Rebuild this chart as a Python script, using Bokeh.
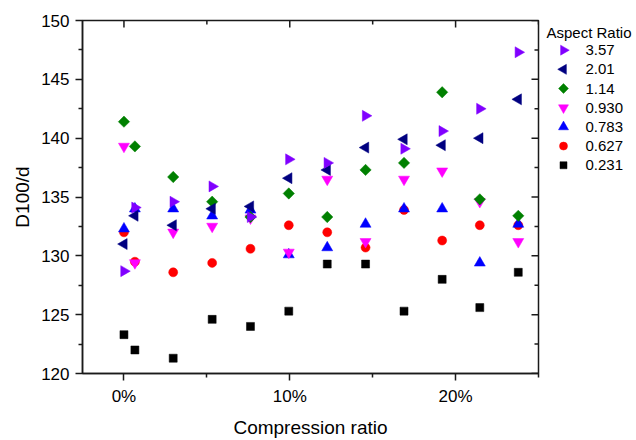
import math
from bokeh.plotting import figure
from bokeh.layouts import row
from bokeh.models import Range1d, NumeralTickFormatter, FixedTicker
from bokeh.core.properties import value
from bokeh.embed import file_html
from bokeh.resources import INLINE

# ---- data ----
compression = [0.0, 0.0066, 0.0297, 0.0532, 0.0763, 0.0994, 0.1226, 0.1457,
               0.1689, 0.1919, 0.2146, 0.2378]

aspect_labels = ["3.57", "2.01", "1.14", "0.930", "0.783", "0.627", "0.231"]

ar_357 = [128.7, 134.1, 134.6, 135.9, 133.3, 138.2, 137.9, 141.9, 139.1, 140.6, 142.5, 147.3]
ar_201 = [131.0, 133.4, 132.6, 134.0, 134.2, 136.6, 137.3, 139.2, 139.9, 139.4, 140.0, 143.3]
ar_114 = [141.4, 139.3, 136.7, 134.6, 133.3, 135.3, 133.3, 137.3, 137.9, 143.9, 134.8, 133.4]
ar_0930 = [139.3, 129.4, 132.0, 132.5, 133.2, 130.3, 136.5, 131.2, 136.5, 137.2, 134.6, 131.2]
ar_0783 = [132.3, 134.0, 134.0, 133.4, 133.9, 130.1, 130.7, 132.7, 134.0, 134.0, 129.4, 132.7]
ar_0627 = [132.0, 129.5, 128.6, 129.4, 130.6, 132.6, 132.0, 130.7, 133.9, 131.3, 132.6, 132.6]
ar_0231 = [123.3, 122.0, 121.3, 124.6, 124.0, 125.3, 129.3, 129.3, 125.3, 128.0, 125.6, 128.6]

x_ticks = [0.0, 0.1, 0.2]
x_minor = [0.05, 0.15, 0.25]
y_ticks = [120, 125, 130, 135, 140, 145, 150]
y_minor = [122.5, 127.5, 132.5, 137.5, 142.5, 147.5]

series = [ar_357, ar_201, ar_114, ar_0930, ar_0783, ar_0627, ar_0231]
styles = [
    dict(marker="triangle", angle=-math.pi / 2, size=11, color="#8000FF"),
    dict(marker="triangle", angle=math.pi / 2, size=11, color="#000080"),
    dict(marker="square", angle=math.pi / 4, size=8, color="#008000"),
    dict(marker="inverted_triangle", angle=0.0, size=11, color="#FF00FF"),
    dict(marker="triangle", angle=0.0, size=11, color="#0000FF"),
    dict(marker="circle", angle=0.0, size=9, color="#FF0000"),
    dict(marker="square", angle=0.0, size=8, color="#000000"),
]

FONT = "Liberation Sans"
AX = "#1a1a1a"

X0, X1 = -0.025, 0.25
Y0, Y1 = 120, 150
TOP, BOTTOM = 20, 63

p = figure(width=544, height=440, output_backend="svg", toolbar_location=None,
           x_range=Range1d(X0, X1), y_range=Range1d(Y0, Y1),
           min_border_left=82, min_border_right=6, min_border_top=TOP,
           min_border_bottom=BOTTOM)
p.grid.visible = False
p.outline_line_color = AX
p.outline_line_width = 1.5
p.background_fill_color = "white"
p.border_fill_color = "white"

xb = p.xaxis[0]
yl = p.yaxis[0]
xb.ticker = FixedTicker(ticks=x_ticks, minor_ticks=x_minor)
xb.formatter = NumeralTickFormatter(format="0%")
yl.ticker = FixedTicker(ticks=y_ticks, minor_ticks=y_minor)
xb.axis_label = "Compression ratio"
yl.axis_label = "D100/d"

for ax in (xb, yl):
    ax.axis_line_color = AX
    ax.axis_line_width = 1.5
    ax.major_tick_line_color = AX
    ax.minor_tick_line_color = AX
    ax.major_tick_line_width = 1.5
    ax.minor_tick_line_width = 1.5
    ax.major_tick_out = 7
    ax.major_tick_in = 0
    ax.minor_tick_out = 4
    ax.minor_tick_in = 0
    ax.major_label_text_font = FONT
    ax.major_label_text_font_size = "17px"
    ax.major_label_text_color = "black"
    ax.axis_label_text_font = FONT
    ax.axis_label_text_font_size = "19px"
    ax.axis_label_text_font_style = "normal"
    ax.axis_label_text_color = "black"
xb.major_label_standoff = 6
xb.axis_label_standoff = 8
yl.major_label_standoff = 6
yl.axis_label_standoff = 5

# mirror ticks (pointing inward) on the top and right frame edges
p.ray(x=x_ticks, y=[Y1] * len(x_ticks), length=7, length_units="screen",
      angle=-math.pi / 2, line_color=AX, line_width=1.5)
p.ray(x=x_minor, y=[Y1] * len(x_minor), length=4, length_units="screen",
      angle=-math.pi / 2, line_color=AX, line_width=1.5)
p.ray(x=[X1] * len(y_ticks), y=y_ticks, length=7, length_units="screen",
      angle=math.pi, line_color=AX, line_width=1.5)
p.ray(x=[X1] * len(y_minor), y=y_minor, length=4, length_units="screen",
      angle=math.pi, line_color=AX, line_width=1.5)

# draw the last legend entry first
for ys, st in reversed(list(zip(series, styles))):
    p.scatter(compression, ys, marker=st["marker"], angle=st["angle"],
              size=st["size"], fill_color=st["color"],
              line_color=st["color"], line_width=0.5)

# ---- legend panel (separate figure, coordinates = page pixels) ----
LW = 92
leg = figure(width=LW, height=440, output_backend="svg", toolbar_location=None,
             x_range=Range1d(0, LW), y_range=Range1d(440 - BOTTOM, TOP),
             x_axis_location=None, y_axis_location=None,
             min_border_left=0, min_border_right=0,
             min_border_top=TOP, min_border_bottom=BOTTOM)
leg.grid.visible = False
leg.outline_line_color = None
leg.background_fill_color = "white"
leg.border_fill_color = "white"

row_h = 19.4
first_y = 50
mark_x = 19
lab_x = 41
for i, (lab, st) in enumerate(zip(aspect_labels, styles)):
    yy = first_y + i * row_h
    leg.scatter([mark_x], [yy], marker=st["marker"], angle=st["angle"],
                size=st["size"] - 1, fill_color=st["color"],
                line_color=st["color"], line_width=0.5)
leg.text(x=[lab_x] * len(aspect_labels),
         y=[first_y + i * row_h for i in range(len(aspect_labels))],
         text=aspect_labels, text_font=value(FONT), text_font_size=value("15px"),
         text_baseline="middle", text_align="left", text_color="black")
leg.text(x=[2], y=[32], text=["Aspect Ratio"], text_font=value(FONT),
         text_font_size=value("15px"), text_baseline="middle",
         text_align="left", text_color="black")

layout = row(p, leg, spacing=0)
open("out.html", "w").write(file_html(layout, INLINE))
